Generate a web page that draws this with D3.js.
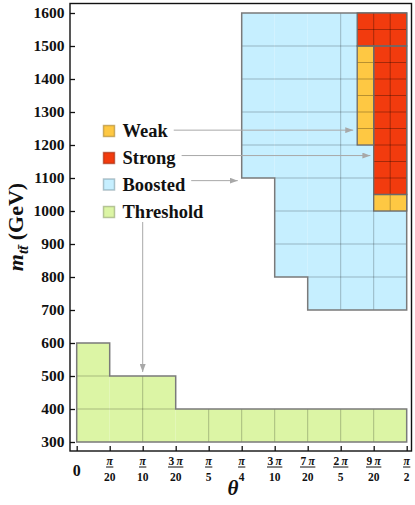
<!DOCTYPE html>
<html>
<head>
<meta charset="utf-8">
<script src="https://cdn.jsdelivr.net/npm/d3@7"></script>
<style>
  body { margin: 0; background: #fff; }
  svg { display: block; font-family: "Liberation Serif", "Times New Roman", serif; }
</style>
</head>
<body>
<svg id="chart" width="415" height="505"></svg>
<script>
// theta values are in units of pi/20, mass in GeV
const thetaTicks = [0, 1, 2, 3, 4, 5, 6, 7, 8, 9, 10];
const tickCoef = ["0", "", "", "3", "", "", "3", "7", "2", "9", ""];
const tickDen = ["", "20", "10", "20", "5", "4", "10", "20", "5", "20", "2"];
const massTicks = [300, 400, 500, 600, 700, 800, 900, 1000, 1100, 1200, 1300, 1400, 1500, 1600];

// bins: [theta0, theta1, m0, m1]
const threshold = [[0, 1, 300, 600], [1, 3, 300, 500], [3, 10, 300, 400]];
const boosted = [[5, 6, 1100, 1600], [6, 7, 800, 1600], [7, 10, 700, 1600]];
const strong = [[8.5, 10, 1500, 1600], [9, 10, 1050, 1500]];
const weak = [[8.5, 9, 1200, 1500], [9, 10, 1000, 1050]];

// legend + arrow targets [theta, m]
const legendItems = ["Weak", "Strong", "Boosted", "Threshold"];
const arrowTargets = [[8.38, 1245], [8.9, 1168], [4.88, 1092], [2, 512]];

const colors = {
    Weak: "#fec843",
    Strong: "#f23b0e",
    Boosted: "#c6efff",
    Threshold: "#dcf5a5"
};

const svg = d3.select("#chart");
const u = Math.PI / 20;
const serif = "Liberation Serif, Times New Roman, serif";

const x = d3.scaleLinear().domain([0, Math.PI / 2]).range([76.7, 406.7]);
const y = d3.scaleLinear().domain([300, 1600]).range([442, 13]);

const plot = svg.append("g");

// draw a set of bins with inner grid
function drawBins(bins, fill, dx, dy, gridOpacity) {
    const g = plot.append("g");
    g.selectAll("rect")
        .data(bins)
        .join("rect")
        .attr("x", d => x(d[0] * u))
        .attr("y", d => y(d[3]))
        .attr("width", d => x(d[1] * u) - x(d[0] * u))
        .attr("height", d => y(d[2]) - y(d[3]))
        .attr("fill", fill);

    // grid lines
    bins.forEach(d => {
        for (let t = d[0] + dx; t < d[1] - 1e-6; t += dx) {
            g.append("line")
                .attr("x1", x(t * u)).attr("x2", x(t * u))
                .attr("y1", y(d[2])).attr("y2", y(d[3]))
                .attr("stroke", "#000").attr("stroke-opacity", gridOpacity).attr("stroke-width", 0.8);
        }
        for (let m = d[2] + dy; m < d[3] - 1e-6; m += dy) {
            g.append("line")
                .attr("x1", x(d[0] * u)).attr("x2", x(d[1] * u))
                .attr("y1", y(m)).attr("y2", y(m))
                .attr("stroke", "#000").attr("stroke-opacity", gridOpacity).attr("stroke-width", 0.8);
        }
    });
    return g;
}

// staircase outline for contiguous bins anchored at bottom or top
function stairOutline(bins, anchor) {
    const pts = [];
    if (anchor === "bottom") {
        pts.push([bins[0][0], bins[0][2]]);
        bins.forEach(d => { pts.push([d[0], d[3]]); pts.push([d[1], d[3]]); });
        pts.push([bins[bins.length - 1][1], bins[0][2]]);
    } else {
        pts.push([bins[0][0], bins[0][3]]);
        bins.forEach(d => { pts.push([d[0], d[2]]); pts.push([d[1], d[2]]); });
        pts.push([bins[bins.length - 1][1], bins[0][3]]);
    }
    return d3.line().x(p => x(p[0] * u)).y(p => y(p[1]))(pts) + "Z";
}

drawBins(threshold, colors.Threshold, 1, 100, 0.3);
plot.append("path").attr("d", stairOutline(threshold, "bottom"))
    .attr("fill", "none").attr("stroke", "#7a7a7a").attr("stroke-width", 1.5);

drawBins(boosted, colors.Boosted, 1, 100, 0.3);
plot.append("path").attr("d", stairOutline(boosted, "top"))
    .attr("fill", "none").attr("stroke", "#7a7a7a").attr("stroke-width", 1.5);

drawBins(strong, colors.Strong, 0.5, 50, 0.4);
drawBins(weak, colors.Weak, 0.5, 50, 0.35);
[strong, weak].forEach(bins => {
    plot.append("g").selectAll("rect")
        .data(bins)
        .join("rect")
        .attr("x", d => x(d[0] * u))
        .attr("y", d => y(d[3]))
        .attr("width", d => x(d[1] * u) - x(d[0] * u))
        .attr("height", d => y(d[2]) - y(d[3]))
        .attr("fill", "none")
        .attr("stroke", "#6a6a6a")
        .attr("stroke-width", 1.3);
});

// frame
svg.append("rect")
    .attr("x", 70).attr("y", 3.5)
    .attr("width", 341.5).attr("height", 447.5)
    .attr("fill", "none").attr("stroke", "#111").attr("stroke-width", 1.4);

// y axis
const yAxis = svg.append("g")
    .attr("transform", "translate(70,0)")
    .call(d3.axisLeft(y).tickValues(massTicks).tickFormat(d3.format("d"))
        .tickSize(-5).tickSizeOuter(0).tickPadding(5.5));
yAxis.attr("font-family", serif);
yAxis.select(".domain").remove();
yAxis.selectAll(".tick line").attr("stroke", "#111").attr("stroke-width", 1.3);
yAxis.selectAll(".tick text")
    .attr("font-weight", "bold")
    .attr("font-size", 15.5)
    .attr("fill", "#111");

// x axis
const xAxis = svg.append("g")
    .attr("transform", "translate(0,451)")
    .call(d3.axisBottom(x).tickValues(thetaTicks.map(t => t * u)).tickSize(-5).tickSizeOuter(0).tickFormat(""));
xAxis.select(".domain").remove();
xAxis.selectAll(".tick line").attr("stroke", "#111").attr("stroke-width", 1.3);

const xl = svg.append("g").attr("font-weight", "bold").attr("fill", "#111");
thetaTicks.forEach((t, i) => {
    const cx = x(t * u);
    if (i === 0) {
        xl.append("text").attr("x", cx).attr("y", 476)
            .attr("text-anchor", "middle").attr("font-size", 16).text("0");
        return;
    }
    const num = xl.append("text").attr("x", cx).attr("y", 465)
        .attr("text-anchor", "middle").attr("font-size", 11.5);
    if (tickCoef[i]) num.append("tspan").text(tickCoef[i] + "\u2009");
    num.append("tspan").attr("font-style", "italic").text("\u03c0");
    const w = num.node().getComputedTextLength();
    xl.append("line")
        .attr("x1", cx - w / 2 - 0.5).attr("x2", cx + w / 2 + 0.5)
        .attr("y1", 467).attr("y2", 467)
        .attr("stroke", "#111").attr("stroke-width", 1);
    xl.append("text").attr("x", cx).attr("y", 481)
        .attr("text-anchor", "middle").attr("font-size", 11.5).text(tickDen[i]);
});

// axis titles
svg.append("text")
    .attr("x", 233).attr("y", 495)
    .attr("text-anchor", "middle")
    .attr("font-size", 21).attr("font-weight", "bold").attr("font-style", "italic")
    .attr("fill", "#111")
    .text("\u03b8");

const yt = svg.append("text")
    .attr("transform", "translate(23,227) rotate(-90)")
    .attr("text-anchor", "middle")
    .attr("font-size", 22).attr("font-weight", "bold")
    .attr("fill", "#111");
yt.append("tspan").attr("font-style", "italic").text("m");
yt.append("tspan").attr("font-style", "italic").attr("font-size", 15).attr("dy", 5).text("tt\u0304");
yt.append("tspan").attr("dy", -5).text(" (GeV)");

// legend
const legend = svg.append("g");
const legY = [131, 158, 184.5, 212];
legendItems.forEach((name, i) => {
    legend.append("rect")
        .attr("x", 103.5).attr("y", legY[i] - 5.5)
        .attr("width", 11).attr("height", 11)
        .attr("fill", colors[name])
        .attr("stroke", d3.color(colors[name]).darker(1.2).copy({opacity: 0.6}).formatRgb())
        .attr("stroke-width", 1.5);
    legend.append("text")
        .attr("x", 122.5).attr("y", legY[i] + 6)
        .attr("font-size", 18.5).attr("font-weight", "bold")
        .attr("fill", "#111")
        .text(name);
});

// arrows
svg.append("defs").append("marker")
    .attr("id", "arrow")
    .attr("markerUnits", "userSpaceOnUse")
    .attr("viewBox", "0 0 8 6")
    .attr("refX", 8).attr("refY", 3)
    .attr("markerWidth", 8).attr("markerHeight", 6)
    .attr("orient", "auto")
    .append("path").attr("d", "M0,0L8,3L0,6Z").attr("fill", "#a8a8a8");

const texts = legend.selectAll("text").nodes();
legendItems.forEach((name, i) => {
    const tgt = arrowTargets[i];
    let x1, y1;
    if (name === "Threshold") {
        x1 = x(tgt[0] * u); y1 = legY[i] + 10;
    } else {
        x1 = 122.5 + texts[i].getComputedTextLength() + 6;
        y1 = y(tgt[1]);
    }
    svg.append("line")
        .attr("x1", x1).attr("y1", y1)
        .attr("x2", x(tgt[0] * u)).attr("y2", y(tgt[1]))
        .attr("stroke", "#a8a8a8").attr("stroke-width", 1)
        .attr("marker-end", "url(#arrow)");
});
</script>
</body>
</html>
